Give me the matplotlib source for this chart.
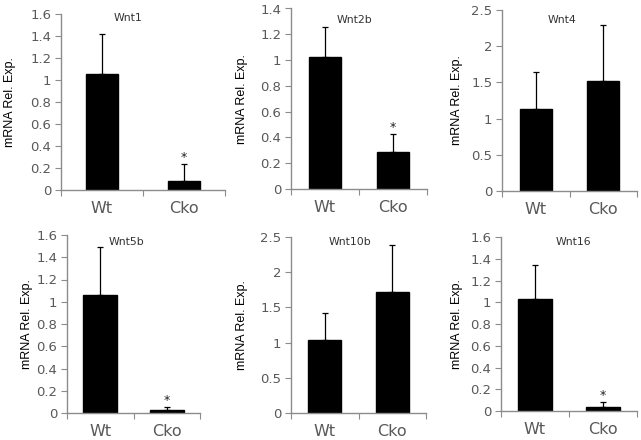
import matplotlib
matplotlib.use('Agg')
import matplotlib.pyplot as plt
import numpy as np

# Groups and gene panels
groups = ['Wt', 'Cko']
genes = ['Wnt1', 'Wnt2b', 'Wnt4', 'Wnt5b', 'Wnt10b', 'Wnt16']

# Mean expression and upper error (top of error bar minus mean)
wnt1_mean = [1.055, 0.082]
wnt1_err = [0.36, 0.15]
wnt2b_mean = [1.025, 0.29]
wnt2b_err = [0.23, 0.14]
wnt4_mean = [1.13, 1.52]
wnt4_err = [0.52, 0.77]
wnt5b_mean = [1.06, 0.025]
wnt5b_err = [0.43, 0.03]
wnt10b_mean = [1.04, 1.72]
wnt10b_err = [0.38, 0.67]
wnt16_mean = [1.03, 0.035]
wnt16_err = [0.31, 0.045]

means = [wnt1_mean, wnt2b_mean, wnt4_mean, wnt5b_mean, wnt10b_mean, wnt16_mean]
errs = [wnt1_err, wnt2b_err, wnt4_err, wnt5b_err, wnt10b_err, wnt16_err]
significant = [True, True, False, True, False, True]

y_max = [1.6, 1.4, 2.5, 1.6, 2.5, 1.6]
y_step = [0.2, 0.2, 0.5, 0.2, 0.5, 0.2]

# Layout in pixels: left, right, top, bottom, bar width, title x/y, ylabel x
W, H = 641, 440
boxes = [(61, 225, 14, 190, 0.40, 128, 18, 10),
         (291, 427, 8.5, 189, 0.48, 355, 20, 242),
         (502, 637, 10, 191, 0.48, 562, 20, 457),
         (67, 200, 235, 413, 0.51, 127, 242, 27),
         (291, 426, 237, 413, 0.49, 350, 242, 242),
         (501, 637, 237, 411, 0.50, 573, 242, 457)]

plt.rcParams['font.family'] = ['DejaVu Sans']
fig = plt.figure(figsize=(W / 100, H / 100), dpi=100)
axis_color = '#8c8c8c'
label_color = '#595959'

for i, gene in enumerate(genes):
    l, r, t, b, bw, tx, ty, lx = boxes[i]
    ax = fig.add_axes([l / W, 1 - b / H, (r - l) / W, (b - t) / H])
    x = np.arange(len(groups))
    ax.bar(x, means[i], width=bw, color='black', edgecolor='black', zorder=2)
    ax.errorbar(x, means[i], yerr=[np.zeros(2), errs[i]], fmt='none',
                ecolor='black', elinewidth=0.9, capsize=2, capthick=0.9, zorder=3)
    if significant[i]:
        ax.text(1, means[i][1] + errs[i][1], '*', ha='center', va='bottom',
                fontsize=9, color='#222222')
    ax.set_xlim(-0.5, 1.5)
    ax.set_ylim(0, y_max[i])
    ticks = np.arange(0, y_max[i] + 1e-6, y_step[i])
    ax.set_yticks(ticks)
    ax.set_yticklabels(['%g' % v for v in ticks])
    ax.set_xticks([-0.5, 0.5, 1.5])
    ax.set_xticklabels([])
    ax.set_xticks(x, minor=True)
    ax.set_xticklabels(groups, minor=True)
    ax.tick_params(axis='x', which='minor', length=0, pad=8,
                   labelsize=11.5, labelcolor=label_color)
    ax.tick_params(axis='x', which='major', length=4, color=axis_color)
    ax.tick_params(axis='y', length=4, color=axis_color, labelsize=9.5,
                   labelcolor=label_color, pad=3)
    for s in ['top', 'right']:
        ax.spines[s].set_visible(False)
    for s in ['left', 'bottom']:
        ax.spines[s].set_color(axis_color)
        ax.spines[s].set_linewidth(1.0)
    ax.patch.set_alpha(0)
    fig.text(tx / W, 1 - ty / H, gene, ha='center', va='center',
             fontsize=7.8, color='#333333')
    fig.text(lx / W, 1 - (t + b) / 2 / H, 'mRNA Rel. Exp.', ha='center',
             va='center', rotation=90, fontsize=9, family='Liberation Sans')

fig.savefig('out.png', dpi=100)
